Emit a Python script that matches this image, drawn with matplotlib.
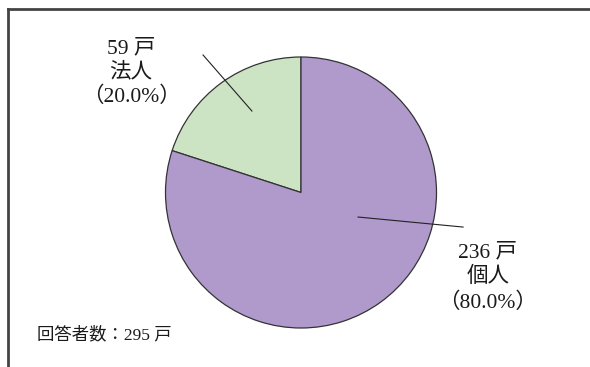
import matplotlib
matplotlib.use("Agg")
import matplotlib.pyplot as plt
from matplotlib.lines import Line2D

categories = ["法人", "個人"]
counts = [59, 236]
percents = [20.0, 80.0]
total = 295
colors = ["#CDE4C4", "#B09ACB"]

plt.rcParams['font.family'] = ['Liberation Serif', 'Noto Sans CJK JP']

W, H = 590, 367
fig = plt.figure(figsize=(W / 100, H / 100), dpi=100)
fig.patch.set_facecolor("white")

cx, cy, r = 301, 192.5, 135.5
ax = fig.add_axes([(cx - r) / W, (H - cy - r) / H, 2 * r / W, 2 * r / H])
ax.pie(counts, colors=colors, startangle=90, counterclock=True,
       wedgeprops=dict(edgecolor="#333333", linewidth=0.9), radius=1)
ax.set_xlim(-1, 1)
ax.set_ylim(-1, 1)
ax.set_aspect("equal")
ax.axis("off")

# leader lines
ax.plot([-0.362, -0.723], [0.601, 1.015], color="#222222", lw=0.8, clip_on=False)
ax.plot([0.421, 1.196], [-0.181, -0.255], color="#222222", lw=0.8, clip_on=False)

def fx(x):
    return x / W

def fy(y):
    return 1 - y / H

labels = [f"{c} 戸\n{n}\n（{p:.1f}%）" for c, n, p in zip(counts, categories, percents)]
fig.text(fx(131), fy(73), labels[0], ha="center", va="center", fontsize=15.5,
         linespacing=1.3, color="#1a1a1a")
fig.text(fx(488), fy(278), labels[1], ha="center", va="center", fontsize=15.5,
         linespacing=1.3, color="#1a1a1a")

fig.text(fx(37), fy(335), f"回答者数：{total} 戸", ha="left", va="center",
         fontsize=12.5, color="#1a1a1a")

# frame lines (top and left)
fig.add_artist(Line2D([fx(8), 1.0], [fy(9), fy(9)], color="#444444", lw=2.0))
fig.add_artist(Line2D([fx(8), fx(8)], [fy(9), 0.0], color="#444444", lw=2.0))

fig.savefig("out.png", dpi=100)
